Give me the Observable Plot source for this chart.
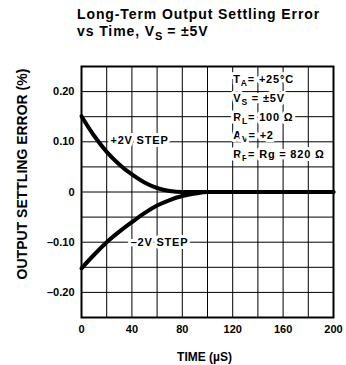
<!DOCTYPE html>
<html><head><meta charset="utf-8">
<script src="https://cdn.jsdelivr.net/npm/d3@7"></script>
<script src="https://cdn.jsdelivr.net/npm/@observablehq/plot@0.6"></script>
<style>
body{margin:0;background:#fff;font-family:"Liberation Sans",Arial,sans-serif;}
#title{height:50px;box-sizing:border-box;padding:6px 0 0 77px;font-weight:bold;font-size:14px;line-height:17px;color:#000;letter-spacing:0.9px;white-space:nowrap}
#title sub{font-size:11px;vertical-align:-4px;line-height:0;letter-spacing:0}
</style></head><body>
<div id="title">Long-Term Output Settling Error<br>vs Time, V<sub>S</sub> = ±5V</div>
<div id="chart"></div>
<script>
// Data
const time    = [0, 10, 20, 30, 40, 50, 60, 70, 80, 90, 100, 120, 140, 160, 180, 200];
const plus2V  = [0.151, 0.112, 0.080, 0.055, 0.035, 0.019, 0.008, 0.002, 0.0, 0.0, 0.0, 0.0, 0.0, 0.0, 0.0, 0.0];
const minus2V = [-0.152, -0.125, -0.100, -0.079, -0.060, -0.042, -0.027, -0.016, -0.008, -0.003, 0.0, 0.0, 0.0, 0.0, 0.0, 0.0];

const xTicks = [0, 40, 80, 120, 160, 200];
const yTicks = [0.2, 0.1, 0, -0.1, -0.2];
const yTickLabels = ["0.20", "0.10", "0", "–0.10", "–0.20"];
const xGrid = [0, 20, 40, 60, 80, 100, 120, 140, 160, 180, 200];
const yGrid = [-0.25, -0.2, -0.15, -0.1, -0.05, 0, 0.05, 0.1, 0.15, 0.2, 0.25];

const stepLabels = ["+2V STEP", "–2V STEP"];
const stepX = [23, 39];
const stepY = [0.102, -0.100];

const condLabels = ["T_A= +25°C", "V_S = ±5V", "R_L= 100 Ω", "A_V= +2", "R_F= Rg = 820 Ω"];
const condX = [120.5, 120.5, 120.5, 120.5, 120.5];
const condY = [0.225, 0.187, 0.149, 0.113, 0.075];

const curves = [
  ...time.map((t, i) => ({t, v: plus2V[i], s: "+2V"})),
  ...time.map((t, i) => ({t, v: minus2V[i], s: "-2V"}))
];
const steps = stepLabels.map((l, i) => ({l, x: stepX[i], y: stepY[i]}));
const conds = condLabels.map((l, i) => ({l, x: condX[i], y: condY[i]}));

const chart = Plot.plot({
  width: 346, height: 315,
  marginLeft: 81, marginRight: 13, marginTop: 16, marginBottom: 48,
  style: {fontFamily: "'Liberation Sans', Arial, sans-serif", fontSize: "11px", fontWeight: "bold", color: "#000", background: "#fff"},
  x: {domain: [0, 200], ticks: xTicks, tickSize: 0, tickPadding: 8, tickFormat: d => String(d), label: null},
  y: {domain: [-0.25, 0.25], ticks: yTicks, tickSize: 0, tickPadding: 7, tickFormat: d => yTickLabels[yTicks.indexOf(d)], label: null},
  marks: [
    Plot.ruleX(xGrid, {stroke: "#000", strokeWidth: 1}),
    Plot.ruleY(yGrid, {stroke: "#000", strokeWidth: 1}),
    Plot.line(curves, {x: "t", y: "v", z: "s", stroke: "#000", strokeWidth: 4, curve: "monotone-x"}),
    Plot.text(steps, {x: "x", y: "y", text: "l", textAnchor: "start", fill: "#000", stroke: "#fff", strokeWidth: 6, fontSize: 11}),
    Plot.text(conds, {x: "x", y: "y", text: "l", textAnchor: "start", fill: "#000", stroke: "#fff", strokeWidth: 6, fontSize: 11}),
    Plot.frame({stroke: "#000", strokeWidth: 2}),
    Plot.text(["OUTPUT SETTLING ERROR (%)"], {frameAnchor: "left", textAnchor: "middle", lineAnchor: "middle", rotate: -90, dx: -59, dy: -18, fontSize: 14, fill: "#000"}),
    Plot.text(["TIME (µS)"], {frameAnchor: "bottom", textAnchor: "middle", lineAnchor: "middle", dx: -3, dy: 40, fontSize: 12, fill: "#000"})
  ]
});

// subscripts and spacing for annotation text
const annot = new Set([...stepLabels, ...condLabels]);
d3.select(chart).selectAll("text").each(function() {
  const s = this.textContent;
  if (!annot.has(s)) return;
  const el = d3.select(this).style("letter-spacing", "0.8px");
  if (!s.includes("_")) return;
  el.text(null);
  const parts = s.split(/_(.)/);
  parts.forEach((p, i) => {
    if (i % 2 === 1) el.append("tspan").attr("dy", 3).attr("font-size", 8.5).text(p);
    else if (i > 0) el.append("tspan").attr("dy", -3).text(p);
    else el.append("tspan").text(p);
  });
});
document.getElementById("chart").append(chart);
</script>
</body></html>
